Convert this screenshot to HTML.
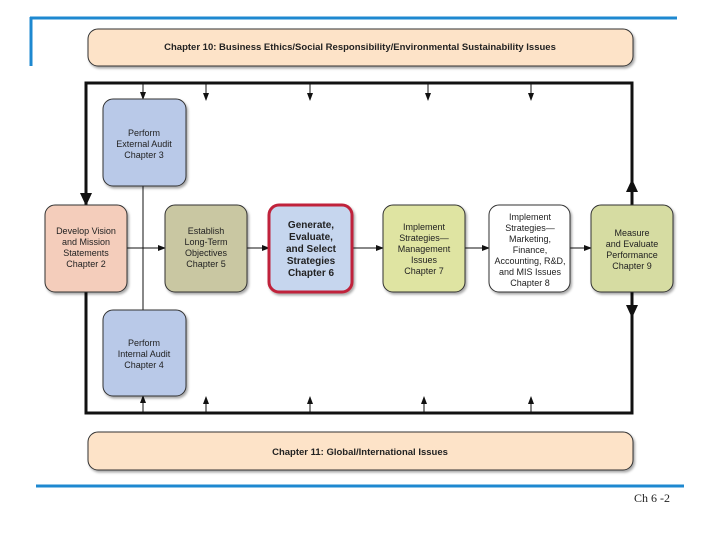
<!DOCTYPE html>
<html><head><meta charset="utf-8"><style>
html,body{margin:0;padding:0;background:#fff;width:720px;height:540px;overflow:hidden}
svg{display:block}
text{font-family:"Liberation Sans Narrow","Liberation Sans",sans-serif;fill:#222}
</style></head><body>
<svg width="720" height="540" viewBox="0 0 720 540" xmlns="http://www.w3.org/2000/svg">
<defs>
<marker id="a" markerWidth="8" markerHeight="8" refX="7" refY="4" orient="auto" markerUnits="userSpaceOnUse"><path d="M0,1 L8,4 L0,7 Z" fill="#111"/></marker>
<filter id="s" x="-10%" y="-10%" width="130%" height="130%"><feDropShadow dx="1.5" dy="2" stdDeviation="1.2" flood-color="#000" flood-opacity="0.35"/></filter>
</defs>
<line x1="30" y1="18" x2="677" y2="18" stroke="#1e88d0" stroke-width="3"/>
<line x1="31" y1="17" x2="31" y2="66" stroke="#1e88d0" stroke-width="3"/>
<line x1="36" y1="486" x2="684" y2="486" stroke="#1e88d0" stroke-width="3"/>
<text x="670" y="502" font-size="12" text-anchor="end" style="font-family:'Liberation Serif',serif" fill="#444">Ch 6 -2</text>
<rect x="88" y="29" width="545" height="37" rx="10" fill="#fde3c8" stroke="#333" stroke-width="1" filter="url(#s)"/>
<text x="360" y="50" font-size="9.5" text-anchor="middle" font-weight="bold">Chapter 10: Business Ethics/Social Responsibility/Environmental Sustainability Issues</text>
<rect x="88" y="432" width="545" height="38" rx="10" fill="#fde3c8" stroke="#333" stroke-width="1" filter="url(#s)"/>
<text x="360" y="455" font-size="9.5" text-anchor="middle" font-weight="bold">Chapter 11:  Global/International Issues</text>
<rect x="86" y="83" width="546" height="330" fill="none" stroke="#111" stroke-width="3"/>
<g stroke="#111" stroke-width="1">
<line x1="143" y1="83" x2="143" y2="99" marker-end="url(#a)"/>
<line x1="206" y1="83" x2="206" y2="100" marker-end="url(#a)"/>
<line x1="310" y1="83" x2="310" y2="100" marker-end="url(#a)"/>
<line x1="428" y1="83" x2="428" y2="100" marker-end="url(#a)"/>
<line x1="531" y1="83" x2="531" y2="100" marker-end="url(#a)"/>
<line x1="143" y1="413" x2="143" y2="396" marker-end="url(#a)"/>
<line x1="206" y1="413" x2="206" y2="397" marker-end="url(#a)"/>
<line x1="310" y1="413" x2="310" y2="397" marker-end="url(#a)"/>
<line x1="424" y1="413" x2="424" y2="397" marker-end="url(#a)"/>
<line x1="531" y1="413" x2="531" y2="397" marker-end="url(#a)"/>
<line x1="143" y1="186" x2="143" y2="310"/>
<line x1="127" y1="248" x2="165" y2="248" marker-end="url(#a)"/>
<line x1="247" y1="248" x2="269" y2="248" marker-end="url(#a)"/>
<line x1="352" y1="248" x2="383" y2="248" marker-end="url(#a)"/>
<line x1="465" y1="248" x2="489" y2="248" marker-end="url(#a)"/>
<line x1="570" y1="248" x2="591" y2="248" marker-end="url(#a)"/>
</g>
<path d="M80,193 L92,193 L86,206 Z" fill="#111"/>
<path d="M80,292 L92,292 L86,279 Z" fill="#111"/>
<path d="M626,192 L638,192 L632,179 Z" fill="#111"/>
<path d="M626,305 L638,305 L632,318 Z" fill="#111"/>
<g stroke="#333" stroke-width="1" filter="url(#s)">
<rect x="103" y="99" width="83" height="87" rx="10" fill="#b9c9e8"/>
<rect x="103" y="310" width="83" height="86" rx="10" fill="#b9c9e8"/>
<rect x="45" y="205" width="82" height="87" rx="10" fill="#f4cdbb"/>
<rect x="165" y="205" width="82" height="87" rx="10" fill="#c9c7a2"/>
<rect x="269" y="205" width="83" height="87" rx="10" fill="#c6d6ee" stroke="#c0243a" stroke-width="3"/>
<rect x="383" y="205" width="82" height="87" rx="10" fill="#dfe4a2"/>
<rect x="489" y="205" width="81" height="87" rx="10" fill="#ffffff"/>
<rect x="591" y="205" width="82" height="87" rx="10" fill="#d6dca2"/>
</g>
<g font-size="9" text-anchor="middle">
<text x="144" y="136">Perform</text><text x="144" y="147">External Audit</text><text x="144" y="158">Chapter 3</text>
<text x="144" y="346">Perform</text><text x="144" y="357">Internal Audit</text><text x="144" y="368">Chapter 4</text>
<text x="86" y="234">Develop Vision</text><text x="86" y="245">and Mission</text><text x="86" y="256">Statements</text><text x="86" y="267">Chapter 2</text>
<text x="206" y="234">Establish</text><text x="206" y="245">Long-Term</text><text x="206" y="256">Objectives</text><text x="206" y="267">Chapter 5</text>
<text x="424" y="230">Implement</text><text x="424" y="241">Strategies—</text><text x="424" y="252">Management</text><text x="424" y="263">Issues</text><text x="424" y="274">Chapter 7</text>
<text x="530" y="220">Implement</text><text x="530" y="231">Strategies—</text><text x="530" y="242">Marketing,</text><text x="530" y="253">Finance,</text><text x="530" y="264">Accounting, R&amp;D,</text><text x="530" y="275">and MIS Issues</text><text x="530" y="286">Chapter 8</text>
<text x="632" y="236">Measure</text><text x="632" y="247">and Evaluate</text><text x="632" y="258">Performance</text><text x="632" y="269">Chapter 9</text>
</g>
<g font-size="10" text-anchor="middle" font-weight="bold">
<text x="311" y="228">Generate,</text><text x="311" y="240">Evaluate,</text><text x="311" y="252">and Select</text><text x="311" y="264">Strategies</text><text x="311" y="276">Chapter 6</text>
</g>
</svg>
</body></html>
